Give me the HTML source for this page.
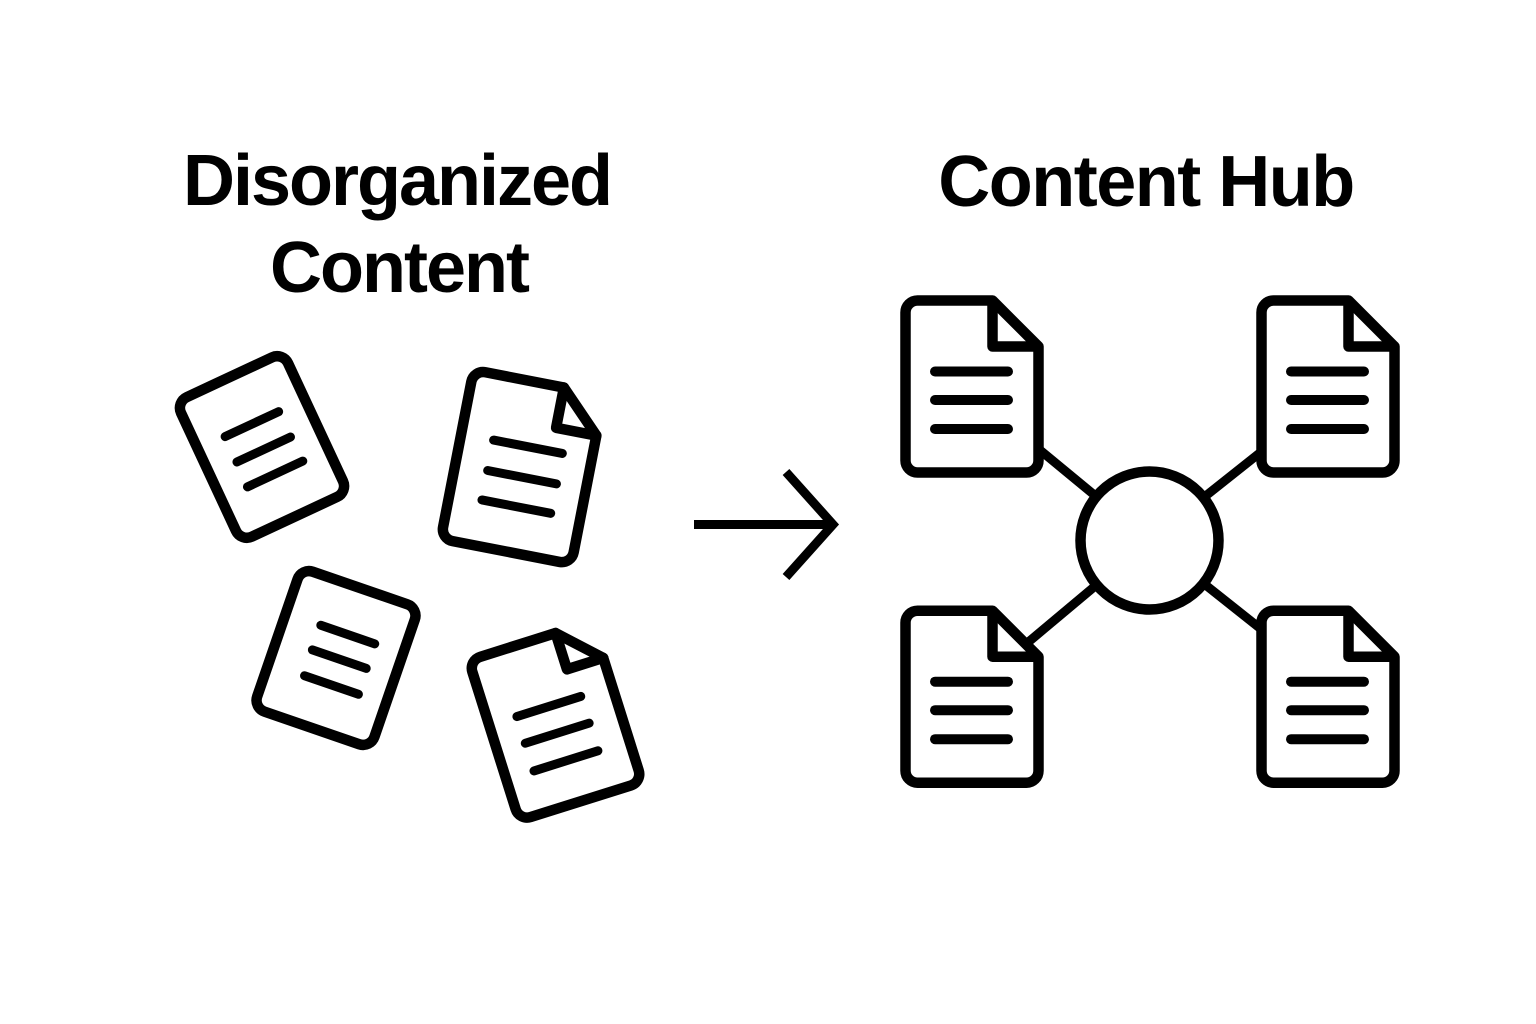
<!DOCTYPE html>
<html>
<head>
<meta charset="utf-8">
<style>
  html, body { margin:0; padding:0; background:#ffffff; }
  body { width:1536px; height:1024px; overflow:hidden; }
  svg { display:block; }
  .t { font-family:"Liberation Sans", Arial, sans-serif; font-weight:700; font-size:72px; fill:#000; }
</style>
</head>
<body>
<svg width="1536" height="1024" viewBox="0 0 1536 1024" xmlns="http://www.w3.org/2000/svg">
  <rect width="1536" height="1024" fill="#ffffff"/>

  <!-- Titles -->
  <text class="t" x="397" y="205" text-anchor="middle" letter-spacing="-2">Disorganized</text>
  <text class="t" x="399" y="292" text-anchor="middle" letter-spacing="-2">Content</text>
  <text class="t" x="1146" y="206" text-anchor="middle" letter-spacing="-1.5">Content Hub</text>

  <!-- Left scattered docs -->
  <g fill="#fff" stroke="#000" stroke-width="10.5" stroke-linejoin="round" stroke-linecap="round">
    <!-- Doc 1: no fold -->
    <g transform="translate(262 447) rotate(-25)">
      <rect x="-59" y="-77" width="118" height="154" rx="12" ry="12"/>
      <g stroke-width="9">
        <line x1="-29" y1="-25" x2="30" y2="-25"/>
        <line x1="-29" y1="3" x2="30" y2="3"/>
        <line x1="-30" y1="30" x2="31" y2="30"/>
      </g>
    </g>

    <!-- Doc 2: with fold -->
    <g transform="translate(522 467) rotate(11)">
      <path d="M -54 -86 H 26 L 67 -45 V 74 A 12 12 0 0 1 55 86 H -54 A 12 12 0 0 1 -66 74 V -74 A 12 12 0 0 1 -54 -86 Z"/>
      <path d="M 26 -86 V -45 H 67" fill="none"/>
      <g stroke-width="9">
        <line x1="-33" y1="-21" x2="37" y2="-21"/>
        <line x1="-33" y1="10" x2="37" y2="10"/>
        <line x1="-33" y1="40" x2="37" y2="40"/>
      </g>
    </g>

    <!-- Doc 3: no fold -->
    <g transform="translate(336 658) rotate(19)">
      <rect x="-62" y="-74" width="124" height="148" rx="12" ry="12"/>
      <g stroke-width="9">
        <line x1="-25" y1="-26" x2="32" y2="-26"/>
        <line x1="-25" y1="0" x2="32" y2="0"/>
        <line x1="-24" y1="27" x2="33" y2="27"/>
      </g>
    </g>

    <!-- Doc 4: with fold -->
    <g transform="translate(556 721) rotate(-17.5)">
      <path d="M -53 -84 H 26 L 64 -46 V 72 A 12 12 0 0 1 52 84 H -53 A 12 12 0 0 1 -65 72 V -72 A 12 12 0 0 1 -53 -84 Z"/>
      <path d="M 26 -84 V -46 H 64" fill="none"/>
      <g stroke-width="9">
        <line x1="-36" y1="-16" x2="31" y2="-16"/>
        <line x1="-36" y1="12" x2="31" y2="12"/>
        <line x1="-36" y1="41" x2="31" y2="41"/>
      </g>
    </g>
  </g>

  <!-- Arrow -->
  <g fill="none" stroke="#000" stroke-width="9" stroke-linecap="butt" stroke-linejoin="miter">
    <line x1="694" y1="524.5" x2="830" y2="524.5"/>
    <polyline points="786,472 833,524.5 786,577"/>
  </g>

  <!-- Hub connectors -->
  <g stroke="#000" stroke-width="9" stroke-linecap="butt">
    <line x1="1149.5" y1="540.5" x2="1035" y2="446"/>
    <line x1="1149.5" y1="540.5" x2="1266" y2="448"/>
    <line x1="1149.5" y1="540.5" x2="1266" y2="633"/>
    <line x1="1149.5" y1="540.5" x2="1026" y2="644"/>
  </g>

  <!-- Hub circle -->
  <circle cx="1149.5" cy="540.5" r="69" fill="#fff" stroke="#000" stroke-width="10.5"/>

  <!-- Right docs -->
  <defs>
    <g id="rdoc">
      <path d="M -54.5 -86 H 20.5 L 66.5 -40 V 74 A 12 12 0 0 1 54.5 86 H -54.5 A 12 12 0 0 1 -66.5 74 V -74 A 12 12 0 0 1 -54.5 -86 Z" fill="#fff"/>
      <path d="M 20.5 -86 V -40 H 66.5" fill="none"/>
      <g stroke-width="10" stroke-linecap="round">
        <line x1="-37" y1="-15" x2="36" y2="-15"/>
        <line x1="-37" y1="13.5" x2="36" y2="13.5"/>
        <line x1="-37" y1="42.5" x2="36" y2="42.5"/>
      </g>
    </g>
  </defs>
  <g stroke="#000" stroke-width="10.5" stroke-linejoin="round">
    <use href="#rdoc" transform="translate(972 386.5)"/>
    <use href="#rdoc" transform="translate(1328 386.5)"/>
    <use href="#rdoc" transform="translate(972 696.7)"/>
    <use href="#rdoc" transform="translate(1328 696.7)"/>
  </g>
</svg>
</body>
</html>
